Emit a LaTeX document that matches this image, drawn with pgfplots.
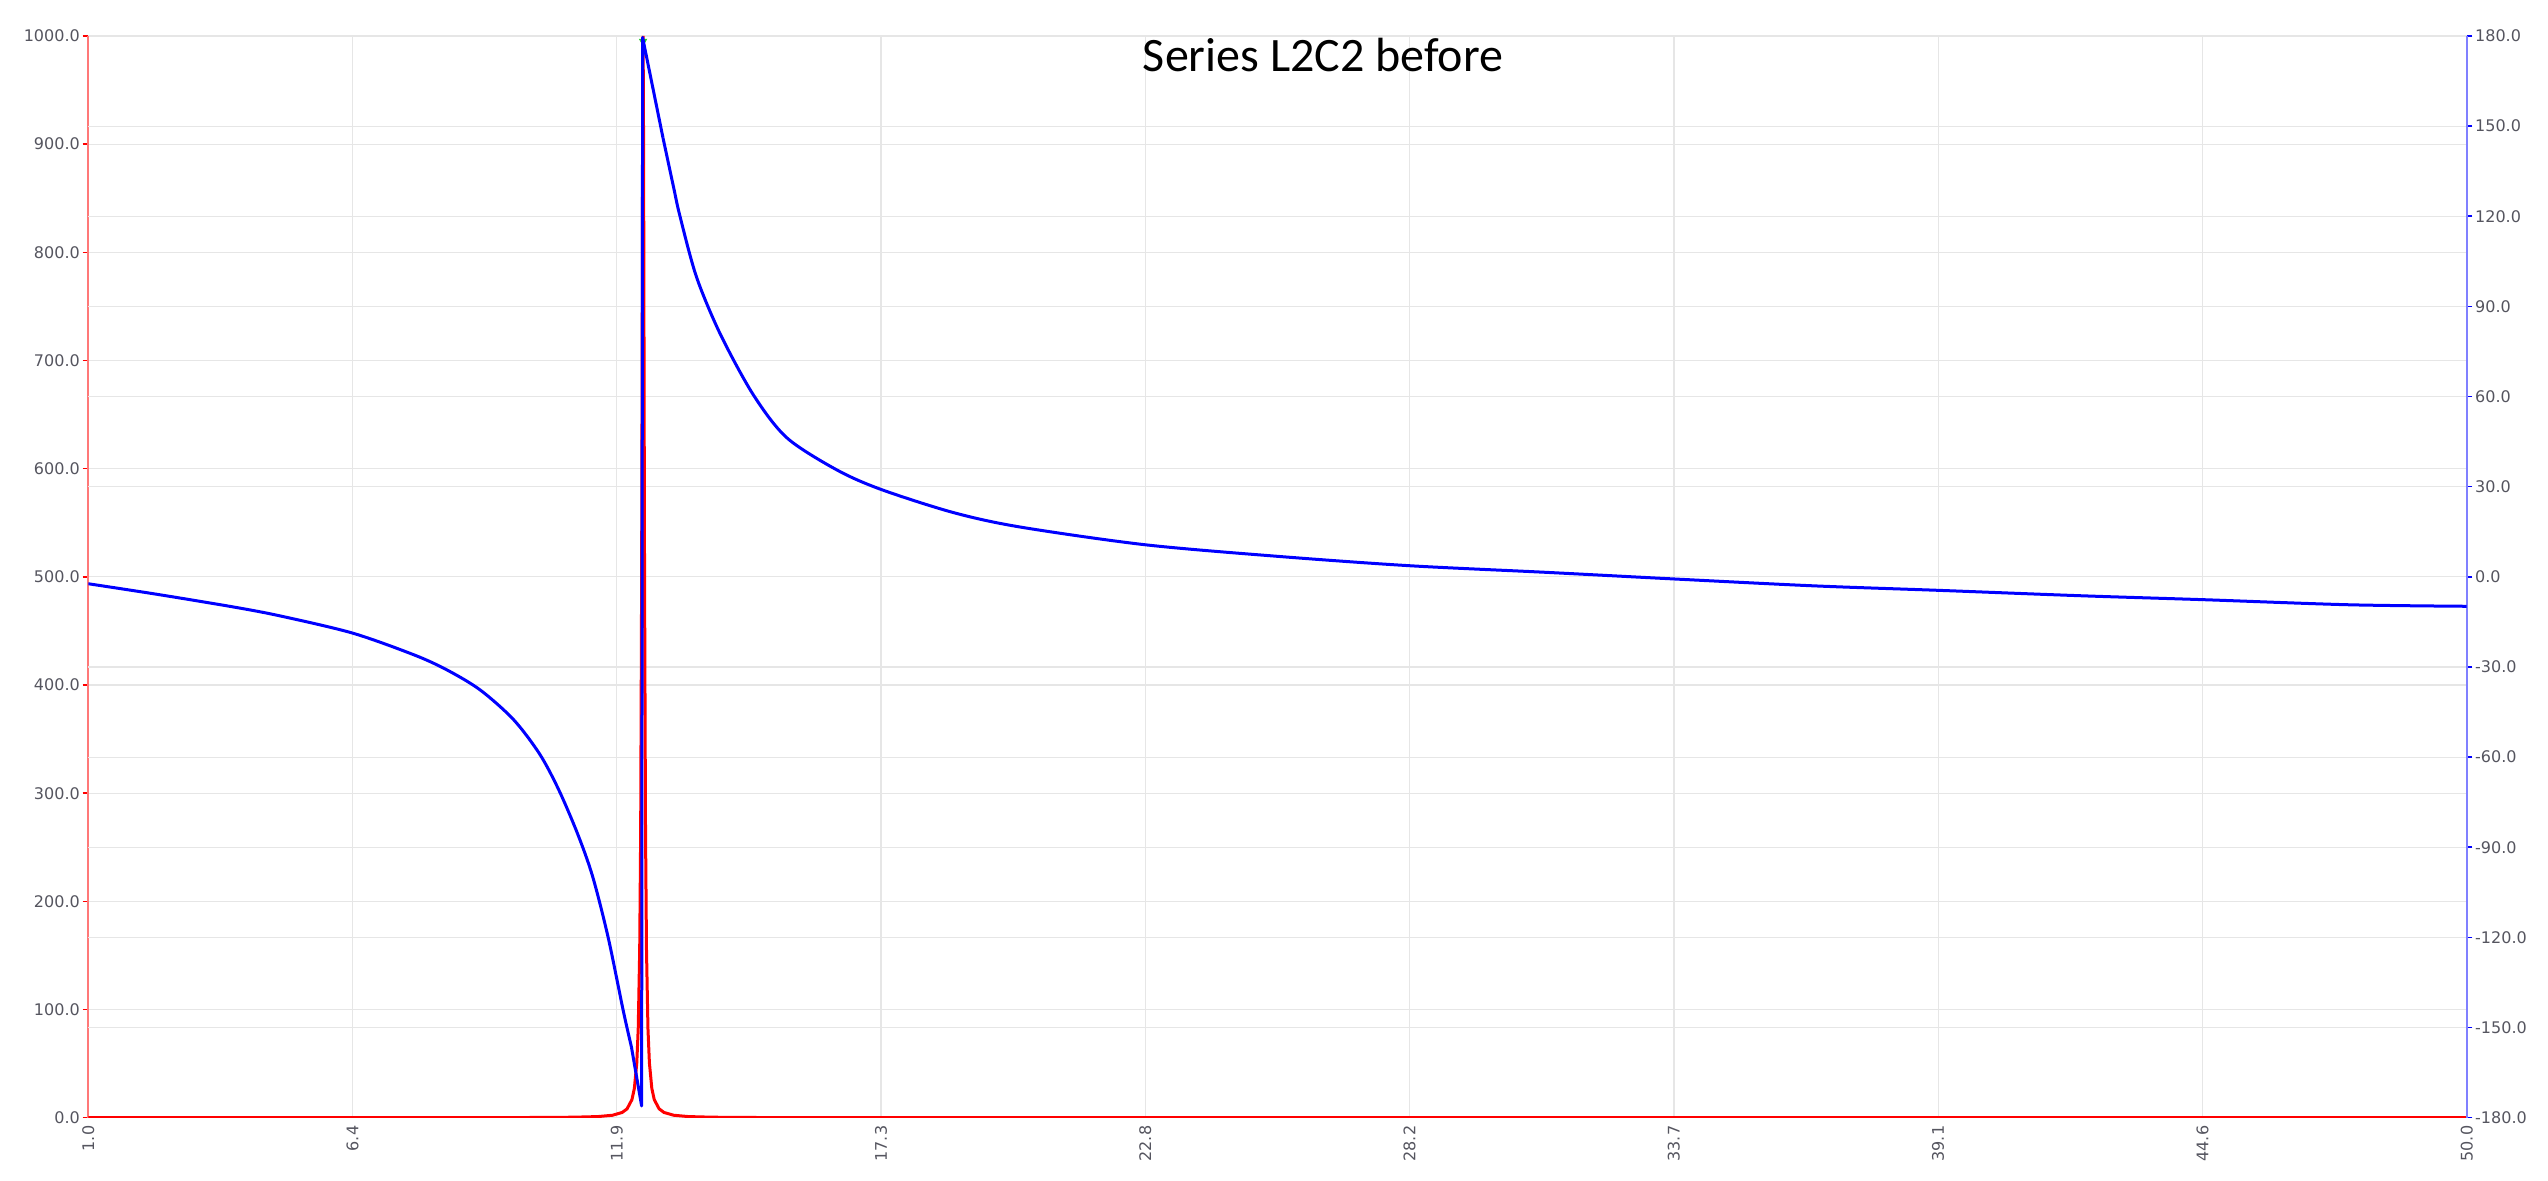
\documentclass[border=0pt]{standalone}
\usepackage{fontspec}
\setmainfont{DejaVu Sans}
\newfontfamily\titlefont{Carlito}
\usepackage{pgfplots}
\pgfplotsset{compat=1.18}
\definecolor{gridgray}{RGB}{230,230,230}
\definecolor{ticktext}{RGB}{85,85,95}
\definecolor{redaxis}{RGB}{255,120,120}
\definecolor{blueaxis}{RGB}{128,128,255}
\definecolor{peakgreen}{RGB}{40,200,40}
\pgfplotsset{
  common/.style={
    at={(44.15pt,31.65pt)}, anchor=south west, scale only axis,
    width=1189.2pt, height=540.85pt,
    xmin=1, xmax=50,
    tick align=outside, major tick length=2.85pt,
    tick label style={font=\fontsize{8}{9.6}\selectfont, text=ticktext},
    /pgf/number format/fixed,
    /pgf/number format/fixed zerofill,
    /pgf/number format/precision=1,
    /pgf/number format/1000 sep={},
    /pgf/number format/assume math mode=true,
  }
}
\begin{document}
\begin{tikzpicture}
\path[use as bounding box] (0,0) rectangle (1274pt,590.5pt);
\begin{axis}[common,
  ymin=0, ymax=1000, ytick={0,100,...,1000},
  xtick={1,6.4444,11.8889,17.3333,22.7778,28.2222,33.6667,39.1111,44.5556,50},
  xticklabel style={rotate=90, anchor=east, inner sep=1pt},
  yticklabel style={inner sep=1.2pt},
  axis x line*=bottom, axis y line*=left,
  x axis line style={draw=none},
  y axis line style={draw=redaxis, line width=1pt},
  xtick style={draw=none},
  ytick style={draw=red, line width=0.8pt},
  grid=major, major grid style={draw=gridgray, line width=0.6pt},
  extra y ticks={83.333,166.667,250,333.333,416.667,583.333,666.667,750,833.333,916.667},
  extra y tick labels={},
  extra y tick style={grid=major, major tick length=0pt, major grid style={draw=gridgray, line width=0.6pt}},
]
\addplot[red, line width=1.5pt] coordinates {
(1,0.01) (5,0.02) (8,0.05) (10,0.15) (11,0.44) (11.5,1.04) (11.8,2.26) (12,4.85)
(12.1,8.2) (12.2,16.7) (12.25,27) (12.3,50.6) (12.33,82.6) (12.36,155.2) (12.38,264.7)
(12.4,500) (12.41,692) (12.42,900) (12.43,1000) (12.44,900) (12.45,692) (12.46,500)
(12.48,264.7) (12.5,155.2) (12.53,82.6) (12.56,50.6) (12.61,27) (12.66,16.7) (12.76,8.2)
(12.86,4.85) (13.06,2.26) (13.36,1.04) (13.86,0.44) (14.86,0.15) (16.86,0.05) (20,0.02)
(30,0) (50,0)
};
\addplot[only marks, mark=triangle*, mark size=2pt, mark options={rotate=180, fill=peakgreen, draw=peakgreen}] coordinates {(12.43,995)};
\end{axis}
\begin{axis}[common,
  ymin=-180, ymax=180, ytick={-180,-150,...,180},
  yticklabel style={inner sep=1.2pt},
  axis y line*=right, axis x line=none,
  y axis line style={draw=blueaxis, line width=1pt},
  ytick style={draw=blue, line width=0.8pt},
  xtick=\empty,
]
\addplot[blue, line width=1.5pt, smooth, tension=0.5] coordinates {
(1,-2.3) (2.41,-5.8) (3.98,-10.0) (4.95,-13.0) (6.44,-18.7) (7.70,-25.9)
(8.38,-30.9) (9.07,-37.6) (9.76,-47.5) (10.30,-59.0) (10.69,-70.8) (11.08,-85.5)
(11.39,-99.7) (11.71,-120) (12.02,-144.3) (12.19,-156.5)
};
\addplot[blue, line width=1.5pt, line join=round] coordinates {
(12.19,-156.5) (12.40,-176.1) (12.42,179.5) (12.84,146.1)
};
\addplot[blue, line width=1.5pt, smooth, tension=0.5] coordinates {
(12.84,146.1) (13.06,129.5) (13.19,120) (13.53,99.8)
(14.02,80.8) (14.70,60.6) (15.39,46.3) (16.42,35.6)
(17.33,29.1) (18.82,21.4) (20.19,16.6) (22.76,10.7) (25.52,6.8)
(28.22,3.7) (31.03,1.5) (33.66,-0.7) (36.55,-3.0) (39.13,-4.5) (42.06,-6.3)
(44.57,-7.6) (47.58,-9.3) (50,-9.8)
};
\end{axis}
\node[anchor=base, inner sep=0pt, font=\titlefont\fontsize{24}{28}\selectfont] at (661.5pt,554.7pt) {Series L2C2 before};
\end{tikzpicture}
\end{document}
